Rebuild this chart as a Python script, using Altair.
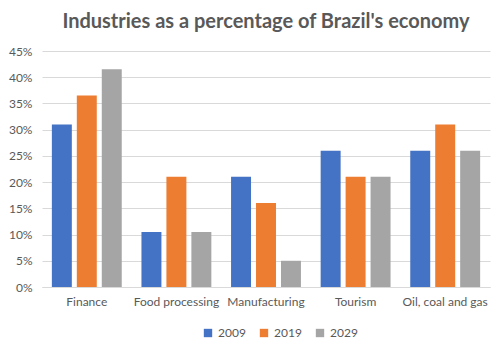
import altair as alt
import pandas as pd

industries = ["Finance", "Food processing", "Manufacturing", "Tourism", "Oil, coal and gas"]
years = ["2009", "2019", "2029"]
v2009 = [31, 10.5, 21, 26, 26]
v2019 = [36.5, 21, 16, 21, 31]
v2029 = [41.5, 10.5, 5, 21, 26]
colors = ["#4472C4", "#ED7D31", "#A5A5A5"]

rows = []
for i, ind in enumerate(industries):
    for y, vals in zip(years, [v2009, v2019, v2029]):
        rows.append({"Industry": ind, "Year": y, "Value": vals[i] / 100})
df = pd.DataFrame(rows)

FONT = "Lato"
chart = alt.Chart(df).mark_bar().encode(
    x=alt.X("Industry:N", sort=industries, title=None,
            scale=alt.Scale(paddingInner=0.22, paddingOuter=0.11),
            axis=alt.Axis(labelAngle=0, ticks=False, domainColor="#D9D9D9",
                          labelColor="#595959", labelFontSize=12, labelFont=FONT,
                          labelPadding=9, grid=False)),
    xOffset=alt.XOffset("Year:N", sort=years, scale=alt.Scale(paddingInner=0.2)),
    y=alt.Y("Value:Q", title=None,
            scale=alt.Scale(domain=[0, 0.45]),
            axis=alt.Axis(format=".0%", values=[i / 100 for i in range(0, 46, 5)],
                          domain=False, ticks=False, labelColor="#595959",
                          labelFontSize=12, labelFont=FONT, labelPadding=10,
                          gridColor="#D9D9D9")),
    color=alt.Color("Year:N", sort=years, title=None,
                    scale=alt.Scale(domain=years, range=colors),
                    legend=alt.Legend(orient="none", direction="horizontal",
                                      legendX=160, legendY=276,
                                      symbolType="square", symbolSize=70,
                                      labelFontSize=12, labelFont=FONT,
                                      labelColor="#595959", columnPadding=12)),
).properties(
    width=448, height=236,
    title=alt.TitleParams("Industries as a percentage of Brazil's economy",
                          font=FONT, fontSize=20, fontWeight="bold",
                          color="#595959", anchor="middle", offset=13),
    padding={"left": 42, "top": 51, "right": 14, "bottom": 63},
    autosize=alt.AutoSizeParams(type="none"),
).configure_view(stroke=None)

chart.save("out.html", embed_options={"renderer": "svg", "actions": False})
